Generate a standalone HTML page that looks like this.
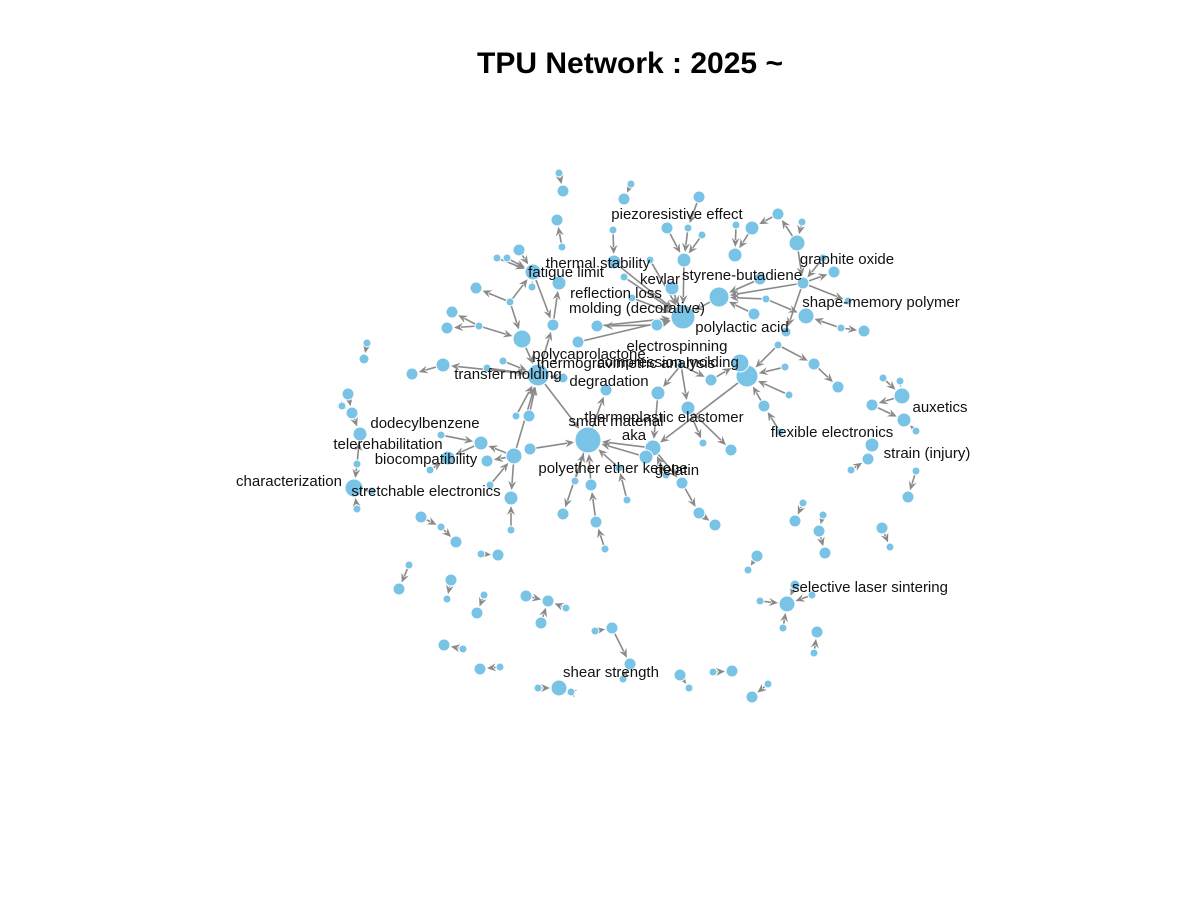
<!DOCTYPE html>
<html><head><meta charset="utf-8"><style>
html,body{margin:0;padding:0;background:#fff;}
svg{display:block;}
text{font-family:"Liberation Sans",sans-serif;}
</style></head><body>
<svg id="chart" width="1200" height="900">
<text x="630" y="73" text-anchor="middle" font-size="30" font-weight="bold" fill="#000">TPU Network : 2025 ~</text>
<g id="edges"></g>
<g id="nodes"></g>
<g id="labels"></g>
</svg>
<script>
// node layout: id, x, y, radius (network layout coordinates)
const nodes=[
["sm",588,440,13],["mo",683,317,12],["hA",747,376,11],["G",740,363,9],["hB",719,297,10],
["tr",538,375,11],["C",522,339,9],["D",806,316,8],["fa",533,272,8],["E",514,456,8],
["F",653,448,8],["F2",646,457,7],["B2",797,243,8],["H",684,260,7],["I",481,443,7],
["J",511,498,7],["K",752,228,7],["L",658,393,7],["M",688,408,7],["N",711,380,6],["el",681,365,4],
["t1",559,173,4],["t2",563,191,6],["t3",631,184,4],["t4",624,199,6],["t5",699,197,6],
["p1",667,228,6],["p2",688,228,4],["p3",702,235,4],["g1",557,220,6],["g2",562,247,4],
["g3",613,230,4],["th",614,262,7],["q1",624,277,4],["q2",650,260,4],
["k1",736,225,4],["k2",735,255,7],["k3",778,214,6],["b1",802,222,4],
["gn",803,283,6],["go",834,272,6],["go2",823,258,4],["sp",848,301,4],["s1",841,328,4],["sp2",864,331,6],
["h1",766,299,4],["h2",754,314,6],["h3",760,279,6],
["kv",672,288,7],["c1",632,298,4],["mp",657,325,6],["pl",786,332,5],
["r1",778,345,4],["r2",814,364,6],["r3",838,387,6],["r4",785,367,4],
["fx",764,406,6],["fx2",780,432,4],["m1",789,395,4],["m2",731,450,6],["m3",703,443,4],
["m4",682,483,6],["m5",699,513,6],["m6",715,525,6],
["dg",606,390,6],["pc",578,342,6],["pc2",597,326,6],
["fl1",553,325,6],["fl2",559,283,7],["fl3",532,287,4],["fl4",510,302,4],["fl5",476,288,6],
["cc1",519,250,6],["cc2",497,258,4],["cc3",507,258,4],
["tm1",452,312,6],["tm2",447,328,6],["tm3",479,326,4],["tm4",503,361,4],["tm5",487,368,4],
["tm6",563,378,5],["tm7",443,365,7],["tm8",412,374,6],
["e1",529,416,6],["e2",516,416,4],["e3",530,449,6],["e4",441,435,4],["e5",448,458,7],
["e6",430,470,4],["e7",487,461,6],["j1",511,530,4],["e8",490,485,4],
["sb1",575,481,4],["sb2",591,485,6],["sb3",563,514,6],["sb4",596,522,6],["sb5",605,549,4],
["f1",627,500,4],["f2",619,468,4],["f3",666,475,4],
["L1",367,343,4],["L2",364,359,5],["L3",348,394,6],["L4",342,406,4],["L5",352,413,6],
["L6",360,434,7],["L7",357,464,4],["L8",354,488,9],["L9",372,491,4],["L10",357,509,4],
["R1",883,378,4],["R2",900,381,4],["R3",902,396,8],["R4",872,405,6],["R5",904,420,7],
["R6",916,431,4],["R7",872,445,7],["R8",868,459,6],["R9",851,470,4],
["b01",421,517,6],["b02",456,542,6],["b03",441,527,4],["b04",481,554,4],["b05",498,555,6],
["b06",409,565,4],["b07",399,589,6],["b08",451,580,6],["b09",447,599,4],["b10",484,595,4],
["b11",477,613,6],["b12",526,596,6],["b13",548,601,6],["b14",566,608,4],["b15",541,623,6],
["b16",444,645,6],["b17",463,649,4],["b18",500,667,4],["b19",480,669,6],["b20",538,688,4],
["b21",559,688,8],["b22",571,692,4],["b23",595,631,4],["b24",612,628,6],["b25",630,664,6],
["b26",623,679,4],["b27",680,675,6],["b28",689,688,4],["b29",713,672,4],["b30",732,671,6],
["b31",768,684,4],["b32",752,697,6],["b33",757,556,6],["b34",748,570,4],["b35",787,604,8],
["b36",760,601,4],["b37",795,585,5],["b38",812,595,4],["b39",783,628,4],["b40",817,632,6],
["b41",814,653,4],["b42",803,503,4],["b43",795,521,6],["b44",823,515,4],["b45",819,531,6],
["b46",825,553,6],["b47",882,528,6],["b48",890,547,4],["b49",916,471,4],["b50",908,497,6]
];
const edgeFrom=["t1","t3","t5","p1","p2","p3","H","g2","g3","th","q1","q2","k1","K","k3","B2","b1","B2","gn","gn","gn","go2","gn","h1","h1","h2","h3","s1","s1","r1","r1","r2","hB","kv","c1","mp","pc","pc2","el","el","el","N","r4","m1","fx2","fx","hA","M","M","F","m4","m5","F","F2","L","tr","e3","sb1","sb2","sm","sm","sb4","sb5","f1","f2","f3",
"e1","e2","E","tm4","tm5","tm6","C","tr","tm7","tr","fl1","cc1","cc2","cc3","fl3","fa","fl4","fl4","fl4","tm3","tm3","tm3",
"E","E","j1","e4","e6","e8","E","I",
"L1","L3","L4","L5","L7","L7","L10","L9",
"R1","R2","R3","R4","R6","R7","R9",
"b01","b03","b04","b06","b08","b10","b12","b14","b15","b17","b18","b20","b22","b23","b24","b26","b27","b29","b31","b33","b36","b37","b38","b39","b41","b42","b44","b45","b47","b49","mp"];
const edgeTo=["t2","t4","p2","H","H","H","mo","g1","th","mo","mo","mo","k2","k2","K","k3","B2","gn","hB","go","sp","gn","pl","hB","D","hB","hB","D","sp2","hA","r2","r3","mo","mo","mo","mo","mo","mo","L","M","N","G","hA","hA","fx","hA","F","m2","m3","sm","m5","m6","m4","sm","F","sm","sm","sm","sm","dg","sb3","sb2","sb4","f2","sm","F",
"tr","tr","tr","tr","tr","tr","tr","tm7","tm8","fl1","fl2","fa","fa","fa","fa","fl1","C","fl5","fa","C","tm1","tm2",
"I","J","J","I","e5","E","e7","e5",
"L2","L5","L5","L6","L6","L8","L8","L8",
"R3","R3","R4","R5","R5","R8","R8",
"b03","b02","b05","b07","b09","b11","b13","b13","b13","b16","b19","b21","b21","b24","b25","b25","b28","b30","b32","b34","b35","b35","b35","b35","b40","b43","b45","b46","b48","b50","pc2"];
const labelText=["piezoresistive effect","graphite oxide","shape-memory polymer","thermal stability","fatigue limit","kevlar","styrene-butadiene","reflection loss","molding (decorative)","polylactic acid","electrospinning","polycaprolactone","thermogravimetric analysis","compression molding","transfer molding","degradation","auxetics","thermoplastic elastomer","smart material","flexible electronics","dodecylbenzene","aka","telerehabilitation","biocompatibility","strain (injury)","polyether ether ketone","gelatin","characterization","stretchable electronics","selective laser sintering","shear strength"];
const labelX=[677,847,881,598,566,660,742,616,637,742,677,589,626,668,508,609,940,664,616,832,425,634,388,426,927,613,677,289,426,870,611];
const labelY=[214,259,302,263,272,279,275,293,308,327,346,354,363,362,374,381,407,417,421,432,423,435,444,459,453,468,470,481,491,587,672];

const NS="http://www.w3.org/2000/svg";
const idx={};nodes.forEach((n,i)=>idx[n[0]]=i);
const gE=document.getElementById("edges"),gN=document.getElementById("nodes"),gL=document.getElementById("labels");
for(let k=0;k<edgeFrom.length;k++){
  const A=nodes[idx[edgeFrom[k]]],B=nodes[idx[edgeTo[k]]];
  if(!A||!B)continue;
  const x1=A[1],y1=A[2],x2=B[1],y2=B[2];
  const dx=x2-x1,dy=y2-y1,d=Math.hypot(dx,dy)||1,ux=dx/d,uy=dy/d;
  const sx=x1+ux*A[3],sy=y1+uy*A[3];
  const tx=x2-ux*(B[3]+1),ty=y2-uy*(B[3]+1);
  const hl=9,hw=4;
  const bx=tx-ux*hl,by=ty-uy*hl;
  const ln=document.createElementNS(NS,"line");
  ln.setAttribute("x1",sx);ln.setAttribute("y1",sy);ln.setAttribute("x2",bx+ux*2);ln.setAttribute("y2",by+uy*2);
  ln.setAttribute("stroke","#8a8a8a");ln.setAttribute("stroke-width","1.6");
  
  
  gE.appendChild(ln);
  const hd=document.createElementNS(NS,"polygon");
  hd.setAttribute("points",`${tx},${ty} ${bx-uy*hw},${by+ux*hw} ${bx+ux*3},${by+uy*3} ${bx+uy*hw},${by-ux*hw}`);
  hd.setAttribute("fill","#8a8a8a");
  
  
  gE.appendChild(hd);
}
for(let i=0;i<nodes.length;i++){
  const c=document.createElementNS(NS,"circle");
  c.setAttribute("cx",nodes[i][1]);c.setAttribute("cy",nodes[i][2]);c.setAttribute("r",nodes[i][3]);
  c.setAttribute("fill","#78c3e6");c.setAttribute("stroke","#fff");c.setAttribute("stroke-width","1");
  
  
  gN.appendChild(c);
}
for(let i=0;i<labelText.length;i++){
  const t=document.createElementNS(NS,"text");
  t.setAttribute("x",labelX[i]);t.setAttribute("y",labelY[i]+5);
  t.setAttribute("text-anchor","middle");t.setAttribute("font-size","15");t.setAttribute("fill","#111");
  t.textContent=labelText[i];
  
  
  gL.appendChild(t);
}
</script>
</body></html>
